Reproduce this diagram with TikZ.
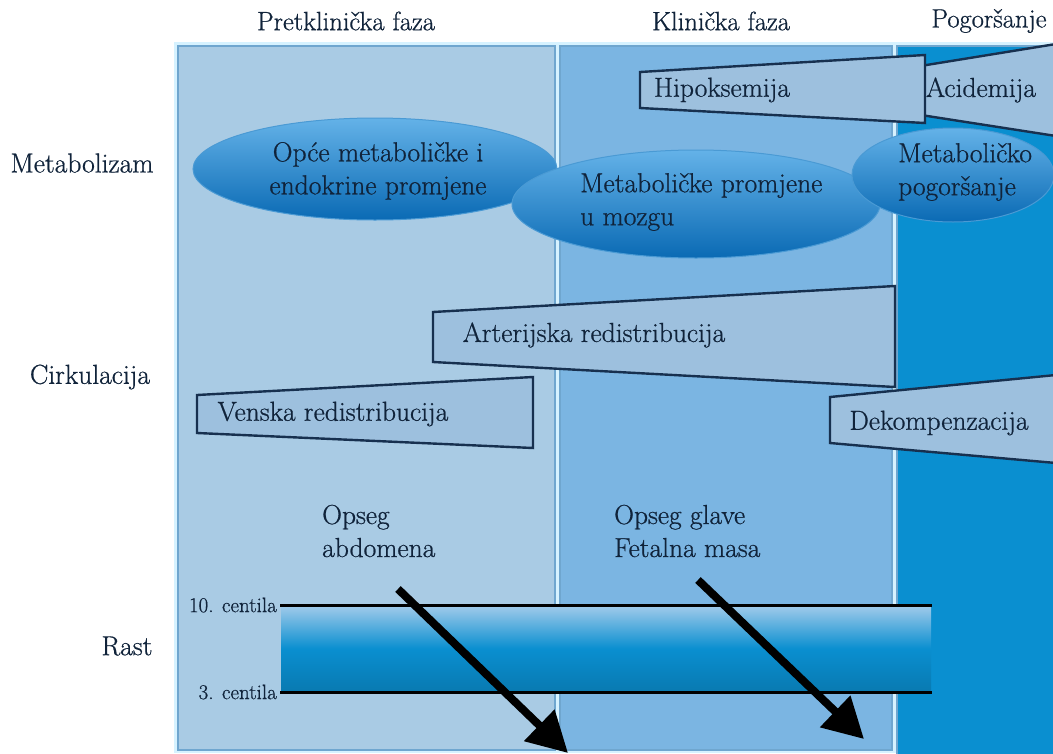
\documentclass[tikz,border=0pt]{standalone}
\usepackage{fontspec}
\setmainfont{Latin Modern Roman}[FakeBold=0.7]
\usetikzlibrary{shapes.geometric,arrows.meta}
\definecolor{pone}{HTML}{A9CBE4}
\definecolor{ptwo}{HTML}{7BB5E2}
\definecolor{pthree}{HTML}{0A8FD0}
\definecolor{gapc}{HTML}{D6F2FF}
\definecolor{pedge}{HTML}{6FA6CF}
\definecolor{trapfill}{HTML}{9DC0DE}
\definecolor{navy}{HTML}{17304F}
\definecolor{elltop}{HTML}{64B2E8}
\definecolor{ellbot}{HTML}{0A6AB4}
\definecolor{elledge}{HTML}{4A9AD4}
\definecolor{txt}{HTML}{10233A}
\begin{document}
\begin{tikzpicture}[x=1pt,y=-1pt,
  lbl/.style={font=\fontsize{27.5}{33}\selectfont, text=txt, inner sep=0pt},
  head/.style={font=\fontsize{26.5}{32}\selectfont, text=txt, inner sep=0pt},
  small/.style={font=\fontsize{21}{25}\selectfont, text=txt, inner sep=0pt},
  panel/.style={draw=pedge, line width=1.2pt},
  trap/.style={fill=trapfill, draw=navy, line width=2.4pt, line join=miter},
  oval/.style={ellipse, draw=elledge, line width=1pt, top color=elltop, bottom color=ellbot, inner sep=0pt},
  growarrow/.style={line width=8pt, black, -{Triangle[length=40pt,width=42pt]}},
  centline/.style={line width=3pt, black}
]
\useasboundingbox (0,0) rectangle (1053,753);
\fill[white] (0,0) rectangle (1053,753);
% panels
\fill[gapc] (174,42) rectangle (1053,753);
\filldraw[panel, fill=pone] (178,46) rectangle (555,750);
\filldraw[panel, fill=ptwo] (560,46) rectangle (892,750);
\filldraw[panel, fill=pthree] (897,46) rectangle (1056,756);

% headers
\node[head] (h1) at (346,21) {Pretklinička faza};
\node[head] (h2) at (721,21) {Klinička faza};
\node[head] (h3) at (989,21) {Pogoršanje};

% row labels
\node[lbl] (r1) at (82,163) {Metabolizam};
\node[lbl] (r2) at (90,377) {Cirkulacija};
\node[lbl] (r3) at (127,646) {Rast};

% ellipses
\node[oval, minimum width=364pt, minimum height=102pt] (e1) at (375,169) {};
\node[oval, minimum width=368pt, minimum height=108pt] (e2) at (696,204) {};
\node[oval, minimum width=202pt, minimum height=94pt] (e3) at (953,175) {};
\node[lbl, align=center] (e1t) at (378,171) {Opće metaboličke i\\endokrine promjene};
\node[lbl, align=left, anchor=west] (e2t) at (580,202) {Metaboličke promjene\\u mozgu};
\node[lbl, align=left, anchor=west] (e3t) at (898,172) {Metaboličko\\pogoršanje};

% trapezoids
\draw[trap] (908,68) -- (1056,44) -- (1056,136) -- (908,113) -- cycle;
\draw[trap] (640,72) -- (925,55) -- (925,123) -- (640,108) -- cycle;
\node[lbl] (hip) at (722,90) {Hipoksemija};
\node[lbl] (aci) at (981,90) {Acidemija};

\draw[trap] (433,312) -- (895,286) -- (895,387) -- (433,362) -- cycle;
\node[lbl] (art) at (594,335) {Arterijska redistribucija};
\draw[trap] (197,395) -- (533,377) -- (533,448) -- (197,433) -- cycle;
\node[lbl] (ven) at (333,414) {Venska redistribucija};
\draw[trap] (830,397) -- (1056,375) -- (1056,463) -- (830,443) -- cycle;
\node[lbl] (dek) at (939,423) {Dekompenzacija};

% growth texts
\node[lbl, align=left, anchor=west] (oa) at (322,531) {Opseg\\abdomena};
\node[lbl, align=left, anchor=west] (og) at (614,531) {Opseg glave\\Fetalna masa};

% growth band
\shade[top color=ptwo!70!white, bottom color=pthree!85!black, middle color=pthree] (281,605) rectangle (931,692);
\coordinate (c10a) at (280,605);
\coordinate (c10b) at (932,605);
\coordinate (c3a) at (280,692);
\coordinate (c3b) at (932,692);
\draw[centline] (c10a) -- (c10b);
\draw[centline] (c3a) -- (c3b);
\node[small, anchor=east] (l10) at (277,605) {10. centila};
\node[small, anchor=east] (l3) at (277,692) {3. centila};

% arrows
\coordinate (a1s) at (398,589);
\coordinate (a1e) at (568,753);
\coordinate (a2s) at (698,580);
\coordinate (a2e) at (864,739);
\draw[growarrow] (a1s) -- (a1e);
\draw[growarrow] (a2s) -- (a2e);
\end{tikzpicture}
\end{document}
